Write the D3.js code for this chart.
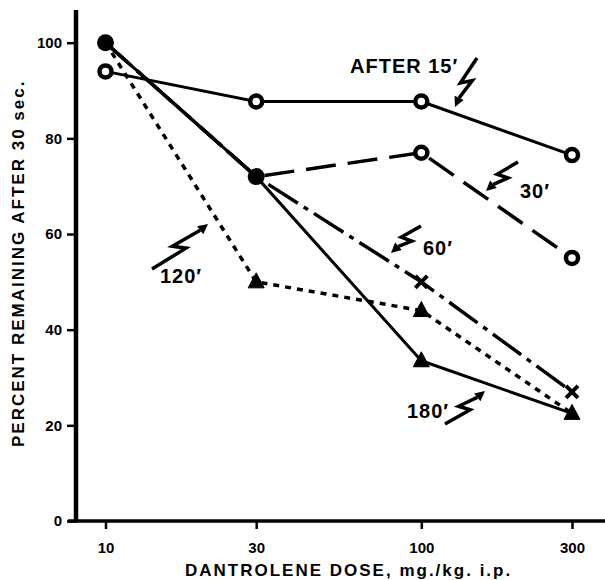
<!DOCTYPE html>
<html><head><meta charset="utf-8">
<script src="https://cdn.jsdelivr.net/npm/d3@7"></script>
<style>
body{margin:0;background:#fff}
text{font-family:"Liberation Sans",Arial,sans-serif;font-weight:bold;fill:#000}
</style>
</head><body><svg id="c" width="605" height="580"></svg>
<script>
// ---- data ----
const doses = [10, 30, 100, 300];
const xTickLabels = ["10", "30", "100", "300"];
const yTicks = [0, 20, 40, 60, 80, 100];
const seriesNames = ["15′", "30′", "60′", "120′", "180′"];
const v15 = [94, 87.7, 87.7, 76.5];
const v30 = [100, 72, 77, 55];
const v60 = [100, 72, 50, 27];
const v120 = [100, 50, 44, 22.5];
const v180 = [100, 72, 33.5, 22.5];
const seriesValues = [v15, v30, v60, v120, v180];
const xTitle = "DANTROLENE DOSE, mg./kg. i.p.";
const yTitle = "PERCENT REMAINING AFTER 30 sec.";

// ---- styles ----
const styles = {
  "15′": {marker: "circle", dash: null, w: 3},
  "30′": {marker: "circle", dash: "30,12", w: 3.5},
  "60′": {marker: "cross", dash: "35,7,5,7", w: 3.5},
  "120′": {marker: "triangle", dash: "6,6", w: 3.5},
  "180′": {marker: "triangle", dash: null, w: 3}
};
const annotations = [
  {text: "AFTER 15′", tx: 350, ty: 73, tail: [477, 58], tip: [455, 107]},
  {text: "30′", tx: 520, ty: 198, tail: [518, 162], tip: [486, 191]},
  {text: "60′", tx: 423, ty: 255, tail: [421, 226], tip: [391, 253]},
  {text: "120′", tx: 160, ty: 283, tail: [152, 269], tip: [208, 224]},
  {text: "180′", tx: 407, ty: 418, tail: [445, 424], tip: [485, 391]}
];

const svg = d3.select("#c");
const x = d3.scaleLog().domain([10, 300]).range([105.5, 572]);
const y = d3.scaleLinear().domain([0, 100]).range([521, 42.7]);

// ---- axes ----
const yAxis = svg.append("g").attr("transform", `translate(${76},0)`)
  .call(d3.axisLeft(y).tickValues(yTicks).tickSize(9).tickPadding(5).tickSizeOuter(0));
yAxis.select(".domain").remove();
yAxis.selectAll(".tick line").attr("stroke", "#000").attr("stroke-width", 2.5);
yAxis.selectAll(".tick text").style("font-size", "15px").attr("font-family", null);
svg.append("line").attr("x1", 76).attr("x2", 76).attr("y1", 10).attr("y2", y(0) + 1.5)
  .attr("stroke", "#000").attr("stroke-width", 4.5);

const xAxis = svg.append("g").attr("transform", `translate(0,${y(0)})`)
  .call(d3.axisBottom(x).tickValues(doses).tickFormat((d, i) => xTickLabels[i]).tickSize(8).tickPadding(13));
xAxis.select(".domain").remove();
xAxis.selectAll(".tick line").attr("stroke", "#000").attr("stroke-width", 2.5);
xAxis.selectAll(".tick text").style("font-size", "15px").attr("font-family", null);
svg.append("line").attr("x1", 68).attr("x2", 605).attr("y1", y(0)).attr("y2", y(0))
  .attr("stroke", "#000").attr("stroke-width", 3.5);

svg.append("text").attr("x", 185).attr("y", 576).style("font-size", "17px")
  .style("letter-spacing", "2px").text(xTitle);
svg.append("text").attr("transform", "translate(24,447) rotate(-90)").style("font-size", "17px")
  .style("letter-spacing", "2px").text(yTitle);

// ---- lines ----
const line = d3.line().x(d => x(d.dose)).y(d => y(d.v));
seriesNames.forEach((name, si) => {
  const pts = doses.map((d, i) => ({dose: d, v: seriesValues[si][i]}));
  const st = styles[name];
  svg.append("path").datum(pts).attr("d", line).attr("fill", "none")
    .attr("stroke", "#000").attr("stroke-width", st.w)
    .attr("stroke-dasharray", st.dash).attr("stroke-linejoin", "round");
});

// ---- markers ----
const groups = new Map();
seriesNames.forEach((name, si) => {
  doses.forEach((d, i) => {
    const k = d + "|" + seriesValues[si][i];
    if (!groups.has(k)) groups.set(k, {dose: d, v: seriesValues[si][i], markers: []});
    groups.get(k).markers.push(styles[name].marker);
  });
});
groups.forEach(g => {
  const cx = x(g.dose), cy = y(g.v);
  const kinds = new Set(g.markers);
  if (kinds.size > 1) {
    svg.append("circle").attr("cx", cx).attr("cy", cy).attr("r", 8.5).attr("fill", "#000");
    return;
  }
  const m = g.markers[0];
  if (m === "circle") {
    svg.append("circle").attr("cx", cx).attr("cy", cy).attr("r", 6)
      .attr("fill", "#fff").attr("stroke", "#000").attr("stroke-width", 4.5);
  } else if (m === "triangle") {
    svg.append("path").attr("transform", `translate(${cx},${cy})`)
      .attr("d", "M0,-9 L8,6 L-8,6 Z").attr("fill", "#000")
      .attr("stroke", "#000").attr("stroke-width", 1).attr("stroke-linejoin", "round");
  } else if (m === "cross") {
    svg.append("path").attr("transform", `translate(${cx},${cy})`)
      .attr("d", "M-6,-6 L6,6 M6,-6 L-6,6").attr("stroke", "#000").attr("stroke-width", 4);
  }
});

// ---- annotations ----
annotations.forEach(a => {
  svg.append("text").attr("x", a.tx).attr("y", a.ty).style("font-size", "20px")
    .style("letter-spacing", "1px").text(a.text);
  const [tx0, ty0] = a.tail, [px, py] = a.tip;
  const dx = px - tx0, dy = py - ty0, L = Math.hypot(dx, dy);
  const ux = dx / L, uy = dy / L, nx = -uy, ny = ux, w = 5;
  const hl = 10, hw = 5;
  const bx = px - ux * hl, by = py - uy * hl;
  const A = [tx0 + dx * 0.55 + nx * w, ty0 + dy * 0.55 + ny * w];
  const B = [tx0 + dx * 0.42 - nx * w, ty0 + dy * 0.42 - ny * w];
  svg.append("path").attr("d", `M${tx0},${ty0} L${A} L${B} L${bx},${by}`)
    .attr("fill", "none").attr("stroke", "#000").attr("stroke-width", 3.5).attr("stroke-linejoin", "miter");
  svg.append("path")
    .attr("d", `M${px},${py} L${bx + nx * hw},${by + ny * hw} L${bx - nx * hw},${by - ny * hw} Z`)
    .attr("fill", "#000");
});
</script>
</body></html>
